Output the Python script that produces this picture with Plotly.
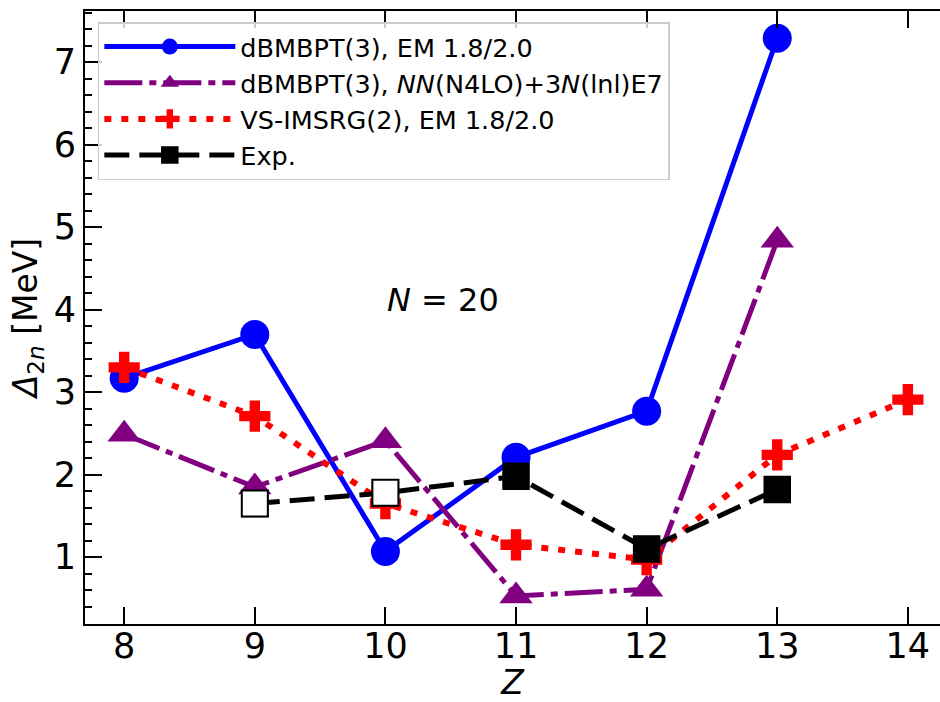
import plotly.graph_objects as go

# Two-neutron gap Delta_2n along the N = 20 isotone chain
Z_bmbpt = [8, 9, 10, 11, 12, 13]
d2n_bmbpt_em = [3.17, 3.70, 1.07, 2.21, 2.77, 7.29]
d2n_bmbpt_n4lo = [2.49, 1.85, 2.41, 0.53, 0.61, 4.84]

Z_imsrg = [8, 9, 10, 11, 12, 13, 14]
d2n_imsrg = [3.30, 2.71, 1.65, 1.15, 0.97, 2.24, 2.91]

Z_exp = [9, 10, 11, 12, 13]
d2n_exp = [1.65, 1.78, 1.98, 1.10, 1.82]
exp_open = [True, True, False, False, False]  # extrapolated values drawn as open squares

x_ticks = [8, 9, 10, 11, 12, 13, 14]
y_ticks = [1, 2, 3, 4, 5, 6, 7]

FONT = "DejaVu Sans"

fig = go.Figure()

fig.add_trace(go.Scatter(
    x=Z_bmbpt, y=d2n_bmbpt_em, mode="lines+markers",
    name="dBMBPT(3), EM 1.8/2.0",
    line=dict(color="#0000ff", width=5),
    marker=dict(symbol="circle", size=29, color="#0000ff"),
))
fig.add_trace(go.Scatter(
    x=Z_bmbpt, y=d2n_bmbpt_n4lo, mode="lines+markers",
    name="dBMBPT(3), <i>NN</i>(N4LO)+3<i>N</i>(lnl)E7",
    line=dict(color="#800080", width=5, dash="38px,7px,7px,7px"),
    marker=dict(symbol="triangle-up", size=29, color="#800080"),
))
fig.add_trace(go.Scatter(
    x=Z_imsrg, y=d2n_imsrg, mode="lines+markers",
    name="VS-IMSRG(2), EM 1.8/2.0",
    line=dict(color="#ff0000", width=6, dash="7px,10px"),
    marker=dict(symbol="cross", size=26, color="#ff0000"),
))
fig.add_trace(go.Scatter(
    x=Z_exp, y=d2n_exp, mode="lines+markers",
    name="Exp.",
    line=dict(color="black", width=5, dash="25px,10px"),
    marker=dict(symbol="square", size=26, color="black",
                line=dict(color="black", width=1.5)),
))
# open squares on top of the filled ones for the extrapolated points
fig.add_trace(go.Scatter(
    x=[z for z, o in zip(Z_exp, exp_open) if o],
    y=[v for v, o in zip(d2n_exp, exp_open) if o],
    mode="markers", showlegend=False,
    marker=dict(symbol="square", size=26, color="white",
                line=dict(color="black", width=2)),
))

fig.add_annotation(
    x=10, y=4, xref="x", yref="y", text="<i>N</i> = 20",
    showarrow=False, xanchor="left", yanchor="bottom", yshift=-11,
    font=dict(family=FONT, size=32, color="black"),
)

axis_common = dict(
    ticks="inside", tickwidth=1.5, tickcolor="black",
    showline=True, linecolor="black", linewidth=2,
    showgrid=False, zeroline=False,
    tickfont=dict(family=FONT, size=35, color="black"),
)

fig.update_layout(
    width=940, height=702,
    margin=dict(l=85, r=0, t=11, b=78),
    paper_bgcolor="white", plot_bgcolor="white",
    font=dict(family=FONT, color="black"),
    xaxis=dict(
        range=[7.7, 14.246], tickvals=x_ticks, ticklen=17, mirror="ticks",
        ticklabelstandoff=-10,
        title=dict(text="<i>Z</i>", font=dict(family=FONT, size=33), standoff=10),
        **axis_common,
    ),
    yaxis=dict(
        range=[0.19, 7.62], tickvals=y_ticks, ticklen=17, mirror=False,
        minor=dict(ticks="inside", ticklen=7, dtick=0.2, tickwidth=1.5,
                   tickcolor="black", showgrid=False),
        title=dict(text="<i>Δ</i><sub>2<i>n</i></sub> [MeV]",
                   font=dict(family=FONT, size=33), standoff=6),
        **axis_common,
    ),
    yaxis2=dict(
        range=[0.19, 7.62], tickvals=y_ticks, overlaying="y", side="right",
        ticks="inside", ticklen=10, tickwidth=1.5, tickcolor="black",
        showticklabels=False, showline=False, showgrid=False, zeroline=False,
    ),
    legend=dict(
        x=0.015, y=0.982, xanchor="left", yanchor="top",
        bgcolor="rgba(255,255,255,0.8)", bordercolor="#cccccc", borderwidth=1.5,
        font=dict(family=FONT, size=25.5, color="black"),
        itemwidth=131, tracegroupgap=0,
    ),
)

fig.write_html("out.html")
